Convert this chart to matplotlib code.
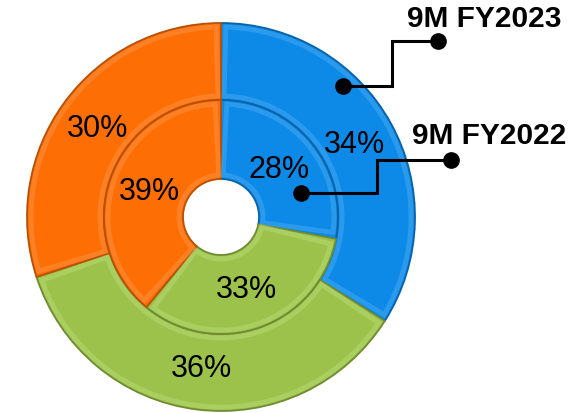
import matplotlib
matplotlib.use("Agg")
import matplotlib.pyplot as plt
from matplotlib.patches import Wedge
import numpy as np

categories = ["Blue", "Green", "Orange"]
fy2023 = [34, 36, 30]   # outer ring
fy2022 = [28, 33, 39]   # inner ring
series_labels = ["9M FY2023", "9M FY2022"]

colors = ["#0D89E8", "#9CC24B", "#FD6E05"]
edge_colors = ["#0A62A8", "#6F8C33", "#B85004"]
light_colors = ["#4FB0F5", "#BFDD7A", "#FF9A4A"]

plt.rcParams['font.family'] = ['Liberation Sans', 'DejaVu Sans']

fig = plt.figure(figsize=(5.81, 4.14), dpi=100)
ax = fig.add_axes([0, 0, 1, 1])

R_out = 194
R_mid = 117
R_in = 38

def ring(vals, radius, width):
    wedges, _ = ax.pie(vals, radius=radius, startangle=90, counterclock=False,
                       colors=colors, wedgeprops=dict(width=width, linewidth=1.3))
    for w, ec, lc in zip(wedges, edge_colors, light_colors):
        w.set_edgecolor(ec)
        # soft bevel highlight inset
        inset = 4
        dang = np.rad2deg(inset / (w.r - w.width / 2))
        hw = Wedge(w.center, w.r - inset, w.theta1 + dang, w.theta2 - dang,
                   width=w.width - 2 * inset, facecolor='none',
                   edgecolor=lc, linewidth=3.5, alpha=0.45)
        ax.add_patch(hw)
    return wedges

ring(fy2023, R_out, R_out - R_mid)
ring(fy2022, R_mid, R_mid - R_in)

# percent labels
def place(vals, radial):
    start = 90
    for v in vals:
        mid = np.deg2rad(start - v * 3.6 / 2)
        ax.text(radial * np.cos(mid), radial * np.sin(mid), f"{v}%",
                ha='center', va='center', fontsize=22, color='black')
        start -= v * 3.6

place(fy2023, 152)
place(fy2022, 76)

# callout connectors
def callout(label, text_xy, pts):
    xs = [p[0] for p in pts]
    ys = [p[1] for p in pts]
    ax.plot(xs, ys, color='black', lw=2.2, solid_joinstyle='miter')
    ax.plot([xs[0], xs[-1]], [ys[0], ys[-1]], 'o', color='black', ms=11)
    ax.text(text_xy[0], text_xy[1], label, fontsize=21.5, fontweight='bold',
            ha='center', va='center')

def px(x, y):
    return (x - 221, 218 - y)

callout(series_labels[0], px(484, 19),
        [px(438, 42), px(392, 42), px(392, 87), px(343, 87)])
callout(series_labels[1], px(489, 136),
        [px(451, 161), px(377, 161), px(377, 194), px(301, 194)])

ax.set_xlim(-221, 360)
ax.set_ylim(-196, 218)
ax.set_aspect('equal')
ax.axis('off')

fig.savefig("out.png", dpi=100)
